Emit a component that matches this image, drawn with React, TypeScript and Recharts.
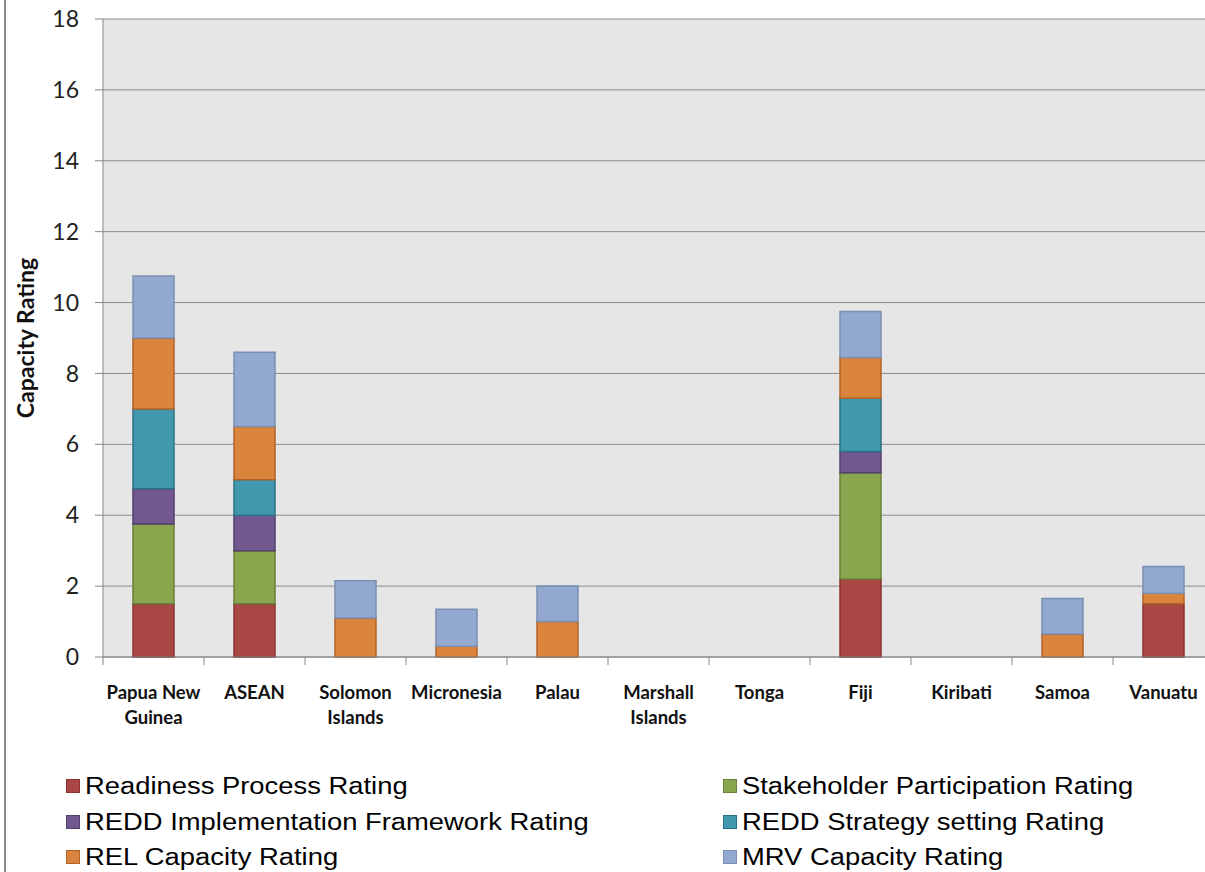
import { Bar, BarChart, CartesianGrid, XAxis, YAxis } from "recharts";

const CATEGORIES = [
  "Papua New Guinea",
  "ASEAN",
  "Solomon Islands",
  "Micronesia",
  "Palau",
  "Marshall Islands",
  "Tonga",
  "Fiji",
  "Kiribati",
  "Samoa",
  "Vanuatu",
];
const READINESS = [1.5, 1.5, 0, 0, 0, 0, 0, 2.2, 0, 0, 1.5];
const STAKEHOLDER = [2.25, 1.5, 0, 0, 0, 0, 0, 3.0, 0, 0, 0];
const IMPLEMENTATION = [1.0, 1.0, 0, 0, 0, 0, 0, 0.6, 0, 0, 0];
const STRATEGY = [2.25, 1.0, 0, 0, 0, 0, 0, 1.5, 0, 0, 0];
const REL = [2.0, 1.5, 1.1, 0.3, 1.0, 0, 0, 1.15, 0, 0.65, 0.3];
const MRV = [1.75, 2.1, 1.05, 1.05, 1.0, 0, 0, 1.3, 0, 1.0, 0.75];
const Y_TICKS = [0, 2, 4, 6, 8, 10, 12, 14, 16, 18];

const SERIES = [
  { key: "readiness", name: "Readiness Process Rating", values: READINESS, fill: "#aa4643", stroke: "#8a3432" },
  { key: "stakeholder", name: "Stakeholder Participation Rating", values: STAKEHOLDER, fill: "#89a54e", stroke: "#6a8139" },
  { key: "implementation", name: "REDD Implementation Framework Rating", values: IMPLEMENTATION, fill: "#71588f", stroke: "#543f6d" },
  { key: "strategy", name: "REDD Strategy setting Rating", values: STRATEGY, fill: "#4198af", stroke: "#2c7387" },
  { key: "rel", name: "REL Capacity Rating", values: REL, fill: "#db843d", stroke: "#b0642a" },
  { key: "mrv", name: "MRV Capacity Rating", values: MRV, fill: "#93a9cf", stroke: "#7a8fb3" },
];

const data = CATEGORIES.map((name, i) => {
  const row: Record<string, string | number> = { name };
  SERIES.forEach((s) => {
    row[s.key] = s.values[i];
  });
  return row;
});

function wrapLabel(label: string) {
  const words = label.split(" ");
  const lines: string[] = [];
  let cur = "";
  words.forEach((w) => {
    const next = cur ? cur + " " + w : w;
    if (next.length > 10 && cur) {
      lines.push(cur);
      cur = w;
    } else {
      cur = next;
    }
  });
  if (cur) lines.push(cur);
  return lines;
}

function CategoryTick(props: any) {
  const { x, y, payload } = props;
  const lines = wrapLabel(payload.value);
  return (
    <g>
      <line x1={x - 50.5} x2={x - 50.5} y1={y - 8} y2={y} stroke="#868686" strokeWidth={1} />
      <text textAnchor="middle" fontFamily="Lato" fontWeight="bold" fontSize={18.5} fill="#111">
        {lines.map((l, i) => (
          <tspan key={l} x={x} y={y + 34 + i * 25}>
            {l}
          </tspan>
        ))}
      </text>
    </g>
  );
}

function AxisTitle() {
  return (
    <text
      x={34}
      y={338}
      transform="rotate(-90, 34, 338)"
      textAnchor="middle"
      fontFamily="Lato"
      fontWeight="bold"
      fontSize={23}
      fill="#111"
    >
      Capacity Rating
    </text>
  );
}

export default function App() {
  return (
    <div
      style={{
        position: "absolute",
        left: 0,
        top: 0,
        width: 1205,
        height: 872,
        overflow: "hidden",
        background: "#fff",
      }}
    >
      <div style={{ position: "absolute", left: 4, top: 0, width: 2, height: 872, background: "#8a8a8a" }} />
      <BarChart
        width={1220}
        height={872}
        data={data}
        margin={{ top: 19, right: 6, bottom: 135, left: 0 }}
        barSize={41}
      >
        <CartesianGrid vertical={false} stroke="#8c8c8c" fill="#e6e6e6" />
        <XAxis
          dataKey="name"
          height={80}
          interval={0}
          tickLine={false}
          tickSize={8}
          tickMargin={0}
          axisLine={{ stroke: "#868686" }}
          tick={<CategoryTick />}
        />
        <YAxis
          width={103}
          domain={[0, 18]}
          ticks={Y_TICKS}
          interval={0}
          tickSize={8}
          tickMargin={16}
          axisLine={{ stroke: "#868686" }}
          tickLine={{ stroke: "#868686" }}
          tick={{ fontFamily: "Lato", fontSize: 23, fill: "#222" }}
          label={<AxisTitle />}
        />
        {SERIES.map((s) => (
          <Bar
            key={s.key}
            dataKey={s.key}
            name={s.name}
            stackId="a"
            fill={s.fill}
            stroke={s.stroke}
            strokeWidth={1.5}
            isAnimationActive={false}
          />
        ))}
      </BarChart>
      {SERIES.map((s, i) => {
        const col = i % 2;
        const row = Math.floor(i / 2);
        const left = col === 0 ? 66 : 723;
        const top = 774 + row * 35.5;
        return (
          <div
            key={s.key}
            style={{ position: "absolute", left, top, height: 24, display: "flex", alignItems: "center" }}
          >
            <span
              style={{
                width: 12,
                height: 12,
                background: s.fill,
                border: `1px solid ${s.stroke}`,
                marginRight: 5,
                flexShrink: 0,
              }}
            />
            <span
              style={{
                fontFamily: "Liberation Sans, Arial, sans-serif",
                fontSize: 23.5,
                lineHeight: "24px",
                color: "#000",
                whiteSpace: "nowrap",
                display: "inline-block",
                transform: "scaleX(1.165)",
                transformOrigin: "left center",
              }}
            >
              {s.name}
            </span>
          </div>
        );
      })}
    </div>
  );
}
